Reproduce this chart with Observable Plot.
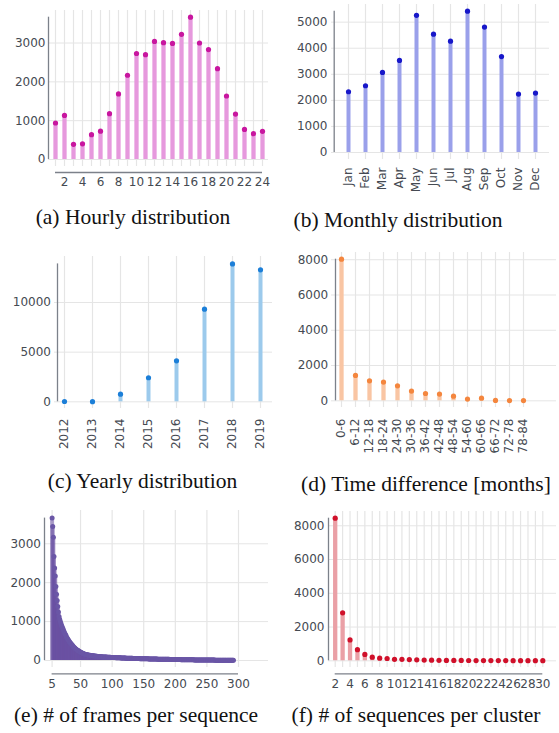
<!DOCTYPE html>
<html><head><meta charset="utf-8">
<script src="https://cdn.jsdelivr.net/npm/d3@7"></script>
<script src="https://cdn.jsdelivr.net/npm/@observablehq/plot@0.6"></script>
<style>
html,body{margin:0;padding:0;background:#fff;}
#fig{position:relative;width:559px;height:733px;overflow:hidden;background:#fff;}
.cap{position:absolute;transform:translate(-50%,-50%);font-family:"Liberation Serif","Times New Roman",serif;font-size:21.5px;line-height:1;white-space:nowrap;color:#111;}
</style></head><body><div id="fig"></div>
<script>
// ---------- data ----------
const hours = [1,2,3,4,5,6,7,8,9,10,11,12,13,14,15,16,17,18,19,20,21,22,23,24];
const hourlyCounts = [940,1135,390,405,640,730,1180,1690,2170,2730,2700,3040,3010,2990,3225,3665,3000,2830,2340,1635,1170,775,665,725];
const hourTicks = [2,4,6,8,10,12,14,16,18,20,22,24];

const months = ["Jan","Feb","Mar","Apr","May","Jun","Jul","Aug","Sep","Oct","Nov","Dec"];
const monthlyCounts = [2330,2560,3070,3530,5260,4540,4270,5420,4810,3680,2240,2280];

const years = ["2012","2013","2014","2015","2016","2017","2018","2019"];
const yearlyCounts = [30,15,770,2420,4130,9330,13890,13290];

const timeBins = ["0-6","6-12","12-18","18-24","24-30","30-36","36-42","42-48","48-54","54-60","60-66","66-72","72-78","78-84"];
const timeCounts = [8030,1440,1130,1060,850,550,415,380,265,95,150,20,15,10];

const framesPerSeq = [5,6,7,8,9,10,11,12,13,14,15,16,17,18,19,20,21,22,23,24,25,26,27,28,29,30,31,32,33,34,35,36,37,38,39,40,41,42,43,44,45,46,47,48,49,50,51,52,53,54,55,56,57,58,59,60,61,62,63,64,65,66,67,68,69,70,71,72,73,74,75,76,77,78,79,80,81,82,83,84,85,86,87,88,89,90,91,92,93,94,95,96,97,98,99,100,101,102,103,104,105,106,107,108,109,110,111,112,113,114,115,116,117,118,119,120,121,122,123,124,125,126,127,128,129,130,131,132,133,134,135,136,137,138,139,140,141,142,143,144,145,146,147,148,149,150,151,152,153,154,155,156,157,158,159,160,161,162,163,164,165,166,167,168,169,170,171,172,173,174,175,176,177,178,179,180,181,182,183,184,185,186,187,188,189,190,191,192,193,194,195,196,197,198,199,200,201,202,203,204,205,206,207,208,209,210,211,212,213,214,215,216,217,218,219,220,221,222,223,224,225,226,227,228,229,230,231,232,233,234,235,236,237,238,239,240,241,242,243,244,245,246,247,248,249,250,251,252,253,254,255,256,257,258,259,260,261,262,263,264,265,266,267,268,269,270,271,272,273,274,275,276,277,278,279,280,281,282,283,284,285,286,287,288,289,290,291,292];
const sequenceCounts = [
3660,3445,3170,2675,2380,2170,1900,1700,1545,1390,
1245,1130,1060,1000,950,900,860,820,780,740,
700,670,640,600,570,545,520,495,470,450,
430,410,390,370,350,335,320,305,290,275,
265,255,245,235,225,215,205,196,188,180,
174,168,162,157,153,149,145,141,138,135,
132,130,127,124,122,120,117,115,113,111,
109,107,105,104,102,100,99,97,96,95,
93,92,91,90,89,88,87,86,85,84,
83,82,81,80,80,79,78,77,76,75,
74,73,72,72,71,70,69,68,68,67,
66,65,65,64,63,62,62,61,60,60,
59,58,58,57,57,56,55,55,54,54,
53,53,52,51,51,50,50,49,49,48,
48,47,47,46,46,45,45,44,44,43,
43,42,42,41,41,40,40,40,39,39,
38,38,37,37,37,36,36,35,35,35,
34,34,33,33,33,32,32,32,31,31,
30,30,30,29,29,29,28,28,28,27,
27,27,26,26,26,25,25,25,24,24,
24,23,23,23,22,22,22,21,21,21,
21,20,20,20,19,19,19,19,18,18,
18,17,17,17,17,16,16,16,16,15,
15,15,15,14,14,14,14,14,13,13,
13,13,12,12,12,12,12,11,11,11,
11,11,10,10,10,10,10,10,9,9,
9,9,9,9,8,8,8,8,8,8,
8,7,7,7,7,7,7,7,6,6,
6,6,6,6,6,5,5,5];
const frameTicks = [5,50,100,150,200,250,300];

const clusterSizes = [2,3,4,5,6,7,8,9,10,11,12,13,14,15,16,17,18,19,20,21,22,23,24,25,26,27,28,29,30];
const clusterCounts = [8450,2840,1235,660,375,215,155,135,90,85,70,55,40,35,30,25,25,20,18,15,15,15,12,12,10,10,8,8,8];
const clusterTicks = [2,4,6,8,10,12,14,16,18,20,22,24,26,28,30];

const captions = ["(a) Hourly distribution","(b) Monthly distribution","(c) Yearly distribution","(d) Time difference [months]","(e) # of frames per sequence","(f) # of sequences per cluster"];

// ---------- drawing ----------
const fig = document.getElementById("fig");
const GRID = "#e5e5e5", AXIS = "#7c818a";

function makePanel(o) {
  const data = o.keys.map((k, i) => ({k, v: o.values[i]}));
  const vmax = d3.max(o.values);
  const first = o.keys[0], last = o.lineEnd !== undefined ? o.lineEnd : o.keys[o.keys.length - 1];
  const xOpts = o.xType === "point"
    ? {type: "point", domain: o.keys, padding: 0, insetLeft: o.il, insetRight: o.ir, tickSize: 0, tickPadding: o.xpad, tickRotate: o.rot || 0, label: null}
    : {type: "linear", domain: o.xDomain, insetLeft: o.il, insetRight: o.ir, ticks: o.xTicks, tickSize: 0, tickPadding: o.xpad, tickFormat: d => String(d), label: null};
  const plot = Plot.plot({
    width: o.w, height: o.h,
    marginTop: o.mt, marginRight: o.mr, marginBottom: o.mb, marginLeft: o.ml,
    style: {fontFamily: "DejaVu Sans, sans-serif", fontSize: "12px", color: "#454a52", background: "transparent", overflow: "visible"},
    x: xOpts,
    y: {domain: [0, vmax], insetTop: o.it, insetBottom: o.ib, ticks: o.yTicks, tickSize: 0, tickPadding: o.ypad, tickFormat: d => String(d), label: null},
    marks: [
      Plot.ruleY(o.yTicks, {stroke: GRID, strokeWidth: 1}),
      Plot.ruleX(o.xGrid, {stroke: GRID, strokeWidth: 1.2}),
      Plot.ruleX(data, {x: "k", y1: 0, y2: "v", stroke: o.bar, strokeOpacity: o.barOp || 1, strokeWidth: o.bw}),
      Plot.dot(data, {x: "k", y: "v", r: o.r, fill: o.dot, stroke: "none"}),
      Plot.ruleX([first], {y1: 0, y2: vmax, dx: -o.il, stroke: AXIS, strokeWidth: 1.3}),
      Plot.ruleY([0], {x1: first, x2: last, dy: o.ady, stroke: AXIS, strokeWidth: 1.3})
    ]
  });
  plot.style.position = "absolute";
  plot.style.left = o.left + "px";
  plot.style.top = o.top + "px";
  fig.appendChild(plot);
}

makePanel({keys: hours, values: hourlyCounts, xType: "linear", xDomain: [hours[0], hours[hours.length-1]], xTicks: hourTicks, xGrid: hours,
  yTicks: [0,1000,2000,3000], left: 0, top: 0, w: 280, h: 195, mt: 10, mr: 12, mb: 29, ml: 48,
  il: 7, ir: 6, it: 6.7, ib: 7, xpad: 11, ypad: 3, ady: 13, bar: "#e699dd", dot: "#c8169f", bw: 4.3, r: 2.6});

makePanel({keys: months, values: monthlyCounts, xType: "point", xGrid: months, rot: -90,
  yTicks: [0,1000,2000,3000,4000,5000], left: 279, top: 0, w: 280, h: 200, mt: 4, mr: 10, mb: 41, ml: 52,
  il: 14.3, ir: 10.3, it: 6.7, ib: 7, xpad: 8, ypad: 4, ady: 12.3, bar: "#9aa0ea", dot: "#1717c9", bw: 4, r: 2.6});

makePanel({keys: years, values: yearlyCounts, xType: "point", xGrid: years, rot: -90,
  yTicks: [0,5000,10000], left: 0, top: 240, w: 280, h: 210, mt: 16, mr: 8, mb: 42, ml: 54,
  il: 7, ir: 9.7, it: 7.4, ib: 6.7, xpad: 10, ypad: 3.5, ady: 12.4, bar: "#9ccaec", dot: "#1c7fd8", bw: 4, r: 2.6});

makePanel({keys: timeBins, values: timeCounts, xType: "point", xGrid: timeBins, rot: -90,
  yTicks: [0,2000,4000,6000,8000], left: 279, top: 240, w: 280, h: 210, mt: 12, mr: 3, mb: 43, ml: 52,
  il: 6, ir: 29, it: 6.7, ib: 6.7, xpad: 11, ypad: 3.3, ady: 13, bar: "#f9c5a3", dot: "#f4863e", bw: 4.3, r: 2.6});

makePanel({keys: framesPerSeq, values: sequenceCounts, xType: "linear", xDomain: [frameTicks[0], frameTicks[frameTicks.length-1]], xTicks: frameTicks, xGrid: frameTicks,
  lineEnd: frameTicks[frameTicks.length-1],
  yTicks: [0,1000,2000,3000], left: 0, top: 500, w: 280, h: 200, mt: 10, mr: 12, mb: 33, ml: 44,
  il: 7.6, ir: 30, it: 7.6, ib: 7, xpad: 11.5, ypad: 3.5, ady: 13.3, bar: "#6a51a3", barOp: 0.55, dot: "#6a56a6", bw: 4, r: 2.5});

makePanel({keys: clusterSizes, values: clusterCounts, xType: "linear", xDomain: [clusterSizes[0], clusterSizes[clusterSizes.length-1]], xTicks: clusterTicks, xGrid: clusterSizes,
  yTicks: [0,2000,4000,6000,8000], left: 279, top: 500, w: 280, h: 200, mt: 11, mr: 3, mb: 33, ml: 49,
  il: 6.7, ir: 13.7, it: 6.7, ib: 6.7, xpad: 11.5, ypad: 4, ady: 13, bar: "#eaa0a6", dot: "#d0102a", bw: 4.3, r: 2.6});

// captions
const capPos = [[133,218],[398,220.5],[142.5,482],[426,484.5],[136,716],[416,716]];
captions.forEach((t, i) => {
  const d = document.createElement("div");
  d.className = "cap";
  d.textContent = t;
  d.style.left = capPos[i][0] + "px";
  d.style.top = capPos[i][1] + "px";
  fig.appendChild(d);
});
</script>
</body></html>
